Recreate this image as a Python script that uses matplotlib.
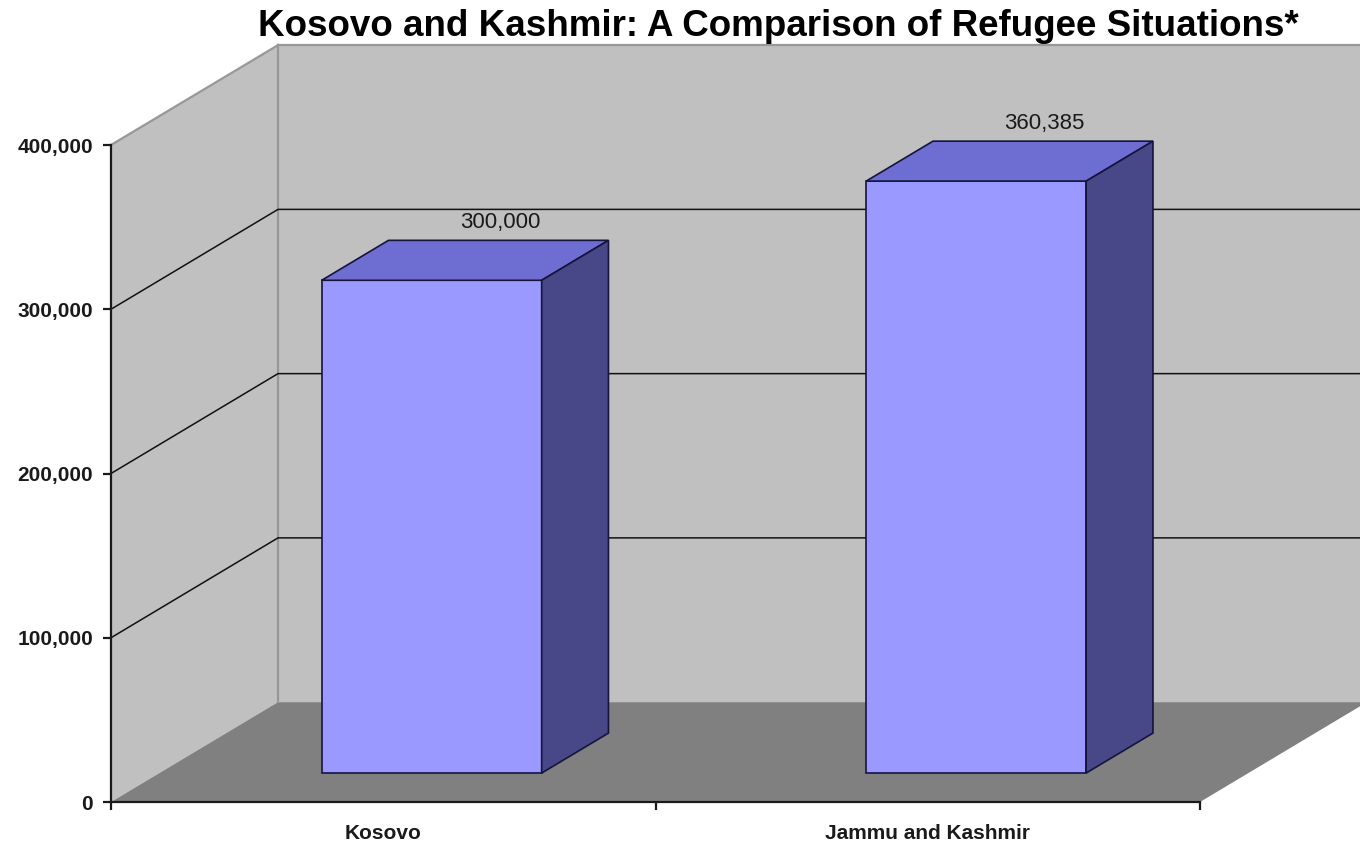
import matplotlib.pyplot as plt
from matplotlib.patches import Polygon
from matplotlib.ticker import FixedLocator, FuncFormatter

# data
categories = ['Kosovo', 'Jammu and Kashmir']
refugees = [300000, 360385]
y_ticks = [0, 100000, 200000, 300000, 400000]
grid_values = [100000, 200000, 300000]
title = 'Kosovo and Kashmir: A Comparison of Refugee Situations*'

plt.rcParams['font.family'] = ['Liberation Sans', 'DejaVu Sans']

fig = plt.figure(figsize=(13.6, 8.44), dpi=100)
ax = fig.add_axes([111 / 1360, 42 / 844, 1089 / 1360, 657 / 844])
x0, x1 = -0.5, len(categories) - 0.5
ytop = y_ticks[-1]
ax.set_xlim(x0, x1)
ax.set_ylim(0, ytop)
ax.patch.set_visible(False)

# depth of the fake 3d box, in data units
DX = 0.3067
DY = 0.152 * ytop


def pt(x, y, z):
    return (x + z * DX, y + z * DY)


def face(points, color, z, ec='none', lw=0):
    ax.add_patch(Polygon(points, closed=True, facecolor=color, edgecolor=ec,
                         linewidth=lw, clip_on=False, zorder=z))


wall = '#c0c0c0'
floor = '#808080'

# back wall, side wall, floor
face([pt(x0, 0, 1), pt(x1, 0, 1), pt(x1, ytop, 1), pt(x0, ytop, 1)], wall, 0.1)
face([pt(x0, 0, 0), pt(x0, ytop, 0), pt(x0, ytop, 1), pt(x0, 0, 1)], wall, 0.1)
face([pt(x0, 0, 0), pt(x1, 0, 0), pt(x1, 0, 1), pt(x0, 0, 1)], floor, 0.2)

# wall edges
edge = '#989898'
for a, b in [((x0, ytop, 0), (x0, ytop, 1)), ((x0, ytop, 1), (x1, ytop, 1)),
             ((x0, 0, 1), (x0, ytop, 1))]:
    pa, pb = pt(*a), pt(*b)
    ax.plot([pa[0], pb[0]], [pa[1], pb[1]], color=edge, lw=1.6,
            clip_on=False, zorder=0.3)

# gridlines on walls
for v in grid_values:
    p0, p1, p2 = pt(x0, v, 0), pt(x0, v, 1), pt(x1, v, 1)
    ax.plot([p0[0], p1[0], p2[0]], [p0[1], p1[1], p2[1]], color='#111111',
            lw=1.1, clip_on=False, zorder=0.4)

# bars
half = 0.202
z0, z1 = 0.29, 0.69
bar_ec = '#14143c'
for i, v in enumerate(refugees):
    a, b = i - half, i + half
    face([pt(a, 0, z0), pt(b, 0, z0), pt(b, v, z0), pt(a, v, z0)],
         '#9999ff', 1 + i, bar_ec, 1.2)
    face([pt(a, v, z0), pt(b, v, z0), pt(b, v, z1), pt(a, v, z1)],
         '#6e6ed2', 1 + i, bar_ec, 1.2)
    face([pt(b, 0, z0), pt(b, 0, z1), pt(b, v, z1), pt(b, v, z0)],
         '#484888', 1 + i, bar_ec, 1.2)
    ax.annotate(f'{v:,}', xy=pt(i, v, z1), xytext=(1, 5),
                textcoords='offset points', ha='center', va='bottom',
                fontsize=16, color='#1a1a1a', annotation_clip=False, zorder=5)

# axes
for s in ['top', 'right']:
    ax.spines[s].set_visible(False)
for s in ['left', 'bottom']:
    ax.spines[s].set_linewidth(1.6)
    ax.spines[s].set_color('#1a1a1a')
    ax.spines[s].set_zorder(6)

ax.yaxis.set_major_locator(FixedLocator(y_ticks))
ax.yaxis.set_major_formatter(FuncFormatter(lambda v, p: f'{int(v):,}'))
ax.tick_params(axis='y', direction='out', length=6, width=1.6,
               color='#1a1a1a', labelsize=15, pad=7)
ax.set_xticks(range(len(categories)))
ax.set_xticklabels(categories)
ax.set_xticks([x0 + k for k in range(len(categories) + 1)], minor=True)
ax.tick_params(axis='x', which='major', length=0, labelsize=15, pad=16)
ax.tick_params(axis='x', which='minor', direction='out', length=6,
               width=1.6, color='#1a1a1a')
for lbl in ax.get_xticklabels() + ax.get_yticklabels():
    lbl.set_fontweight('bold')
    lbl.set_color('#1a1a1a')

fig.text(778 / 1360, 1 - 26 / 844, title, ha='center', va='center',
         fontsize=26.5, fontweight='bold')

fig.savefig('out.png', dpi=100)
